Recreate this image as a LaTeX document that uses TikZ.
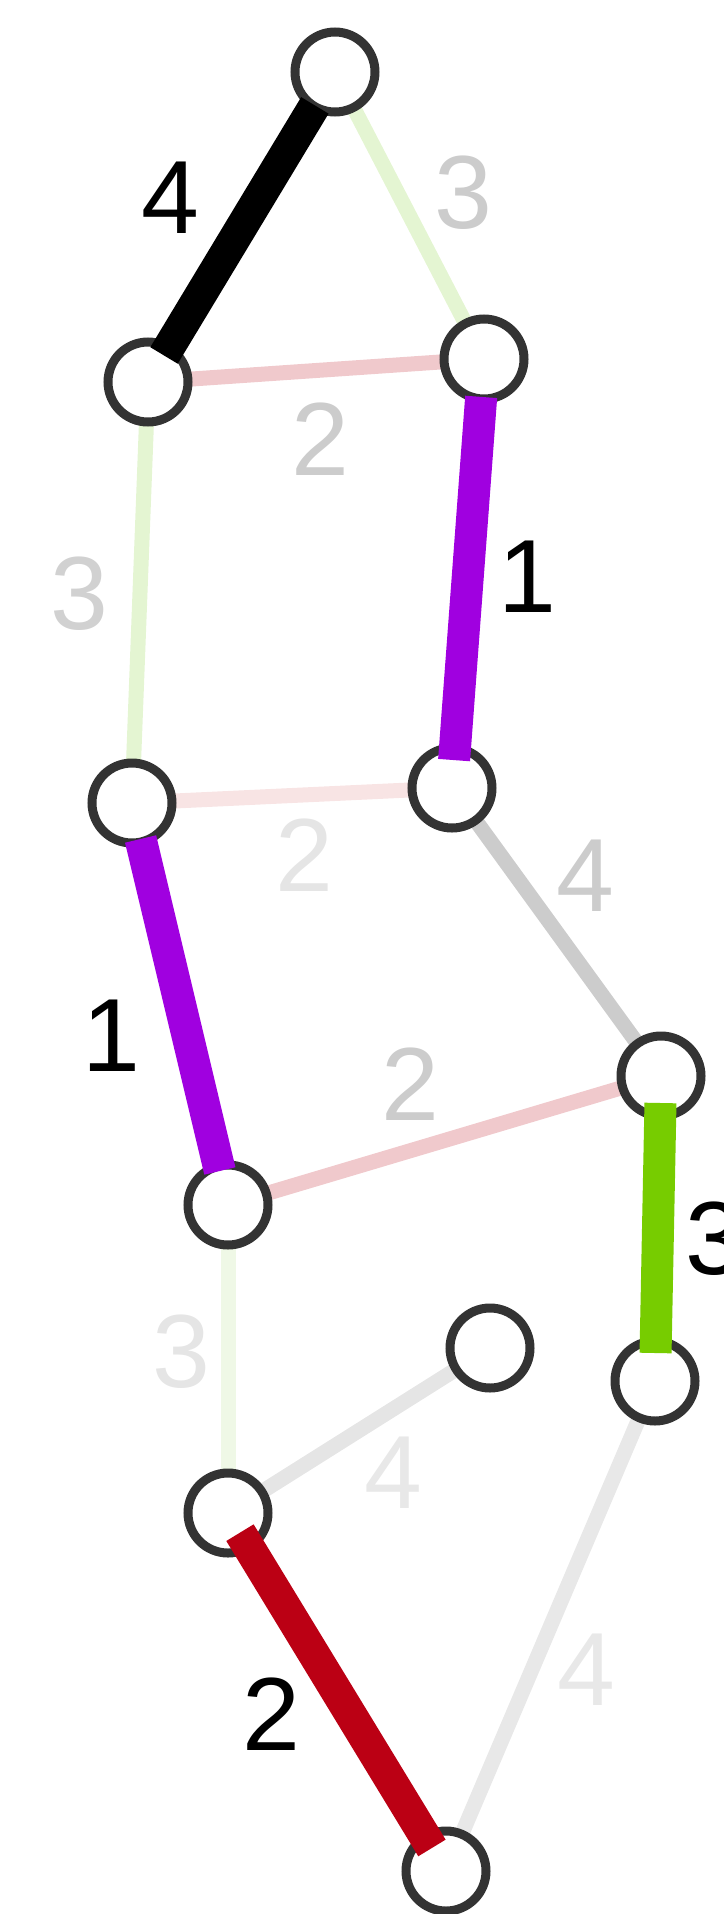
\documentclass[tikz,border=0pt]{standalone}
\usepackage{fontspec}
\setmainfont{Liberation Sans}
\definecolor{nodestroke}{HTML}{333333}
\definecolor{cpurple}{HTML}{A000E0}
\definecolor{cgreen}{HTML}{77CC00}
\definecolor{cred}{HTML}{BB0014}
\definecolor{lgreen}{HTML}{E4F5D2}
\definecolor{lgreenb}{HTML}{EFF8E6}
\definecolor{lpink}{HTML}{F0C9CC}
\definecolor{lpinkb}{HTML}{F8E4E4}
\definecolor{lgray}{HTML}{CCCCCC}
\definecolor{lgrayb}{HTML}{E5E5E5}
\definecolor{lgrayc}{HTML}{E8E8E8}
\definecolor{tgray}{HTML}{CCCCCC}
\definecolor{tgrayb}{HTML}{E5E5E5}
\begin{document}
\begin{tikzpicture}[x=1pt,y=-1pt,
  vtx/.style={circle,draw=nodestroke,fill=white,line width=9pt,minimum size=80pt,inner sep=0pt},
  thinedge/.style={line width=15pt},
  thickedge/.style={line width=32pt},
  lbl/.style={inner sep=0pt,font=\fontsize{104}{104}\selectfont}]
\useasboundingbox (0,0) rectangle (723,1914);
\clip (0,0) rectangle (723,1914);
% vertex positions
\coordinate (pA) at (335,72);
\coordinate (pB) at (148,382);
\coordinate (pC) at (484,359);
\coordinate (pD) at (132,803);
\coordinate (pE) at (452,788);
\coordinate (pF) at (661,1076);
\coordinate (pG) at (228,1205);
\coordinate (pH) at (490,1348);
\coordinate (pI) at (655,1381);
\coordinate (pJ) at (228,1513);
\coordinate (pK) at (446,1871);
% thin edges (below vertices)
\draw[thinedge,lgreen] (pA) -- (pC);
\draw[thinedge,lpink] (pB) -- (pC);
\draw[thinedge,lgreen] (pB) -- (pD);
\draw[thinedge,lpinkb] (pD) -- (pE);
\draw[thinedge,lgray] (pE) -- (pF);
\draw[thinedge,lpink] (pG) -- (pF);
\draw[thinedge,lgreenb] (pG) -- (pJ);
\draw[thinedge,lgrayb] (pJ) -- (pH);
\draw[thinedge,lgrayc] (pI) -- (pK);
% vertices
\node[vtx] (A) at (pA) {};
\node[vtx] (B) at (pB) {};
\node[vtx] (C) at (pC) {};
\node[vtx] (D) at (pD) {};
\node[vtx] (E) at (pE) {};
\node[vtx] (F) at (pF) {};
\node[vtx] (G) at (pG) {};
\node[vtx] (H) at (pH) {};
\node[vtx] (I) at (pI) {};
\node[vtx] (J) at (pJ) {};
\node[vtx] (K) at (pK) {};
% thick edges (above vertices)
\draw[thickedge,black,shorten <=39pt,shorten >=31pt] (A.center) -- (B.center);
\draw[thickedge,cpurple,shorten <=38pt,shorten >=28pt] (C.center) -- (E.center);
\draw[thickedge,cpurple,shorten <=37pt,shorten >=35pt] (D.center) -- (G.center);
\draw[thickedge,cgreen,shorten <=27pt,shorten >=28pt] (F.center) -- (I.center);
\draw[thickedge,cred,shorten <=23pt,shorten >=27pt] (J.center) -- (K.center);
% labels
\node[lbl,text=black] (lAB) at (170,198) {4};
\node[lbl,text=tgray] (lAC) at (463,193) {3};
\node[lbl,text=tgray] (lBC) at (320,439) {2};
\node[lbl,text=tgray!90!white] (lBD) at (79,594) {3};
\node[lbl,text=black] (lCE) at (527,577) {1};
\node[lbl,text=tgrayb] (lDE) at (304,855) {2};
\node[lbl,text=tgray] (lEF) at (585,876) {4};
\node[lbl,text=black] (lDG) at (111,1036) {1};
\node[lbl,text=tgray] (lGF) at (410,1084) {2};
\node[lbl,text=black] (lFI) at (714,1239) {3};
\node[lbl,text=tgrayb] (lGJ) at (181,1352) {3};
\node[lbl,text=lgrayc] (lJH) at (393,1473) {4};
\node[lbl,text=lgrayc] (lIK) at (586,1670) {4};
\node[lbl,text=black] (lJK) at (271,1714) {2};
\end{tikzpicture}
\end{document}
